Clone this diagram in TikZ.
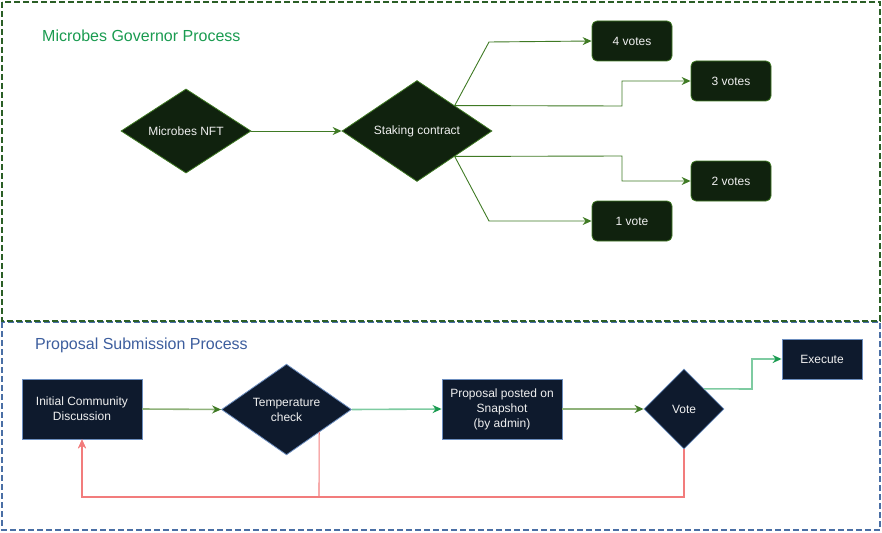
\documentclass[tikz,border=0pt]{standalone}
\usepackage{fontspec}
\setmainfont{Liberation Sans}
\usetikzlibrary{shapes.geometric,arrows.meta,calc}
\definecolor{gfill}{HTML}{10220E}
\definecolor{gborder}{HTML}{3F7A24}
\definecolor{gframe}{HTML}{2B5F26}
\definecolor{gtitle}{HTML}{1A9B50}
\definecolor{btitle}{HTML}{3D5E9E}
\definecolor{bframe}{HTML}{4A6FA5}
\definecolor{nfill}{HTML}{0E1A2D}
\definecolor{nborder}{HTML}{6C8EBF}
\definecolor{oline}{HTML}{8FB27A}
\definecolor{mline}{HTML}{7ECBA1}
\definecolor{rline}{HTML}{F27C7C}
\definecolor{rlight}{HTML}{FFB8B8}
\definecolor{ntext}{HTML}{F0F0F0}
\tikzset{
  frame/.style={line width=1.4pt, dash pattern=on 6pt off 3pt},
  title/.style={font=\fontsize{16}{19}\selectfont, anchor=west, inner sep=0pt},
  gdiam/.style={diamond, draw=gborder, fill=gfill, text=ntext, inner sep=0pt, line width=0.8pt, font=\fontsize{12}{14}\selectfont},
  gbox/.style={rectangle, rounded corners=5pt, draw=gborder, fill=gfill, text=ntext, minimum width=80pt, minimum height=40pt, line width=0.8pt, font=\fontsize{12}{14}\selectfont},
  ndiam/.style={diamond, draw=nborder, fill=nfill, text=ntext, inner sep=0pt, line width=0.8pt, align=center, font=\fontsize{12}{15}\selectfont},
  nbox/.style={rectangle, draw=nborder, fill=nfill, text=ntext, inner sep=0pt, line width=0.8pt, align=center, font=\fontsize{12}{15}\selectfont},
  garrow/.style={draw=gborder, line width=0.9pt, -{Stealth[length=9pt,width=8pt,inset=3pt]}},
  oarrow/.style={draw=oline, line width=1.6pt, -{Stealth[length=9pt,width=8pt,inset=3pt,color=gborder]}},
  marrow/.style={draw=mline, line width=1.6pt, -{Stealth[length=9pt,width=8pt,inset=3pt,color=gtitle]}},
  rarrow/.style={draw=rline, line width=1.1pt, -{Stealth[length=9pt,width=8pt,inset=3pt]}},
}
\begin{document}
\begin{tikzpicture}[x=1pt,y=-1pt]
\useasboundingbox (0,0) rectangle (882,532);
% frames
\draw[frame, bframe] (2,322) rectangle (880,530);
\draw[frame, gframe] (2,2) rectangle (880,321);
\node[title, text=gtitle] (t1) at (42,35.5) {Microbes Governor Process};
\node[title, text=btitle] (t2) at (35,345.5) {Proposal Submission Process};
% top nodes
\node[gdiam, minimum width=130pt, minimum height=81pt] (nft) at (186,131) {Microbes NFT};
\node[gdiam, minimum width=150pt, minimum height=101pt] (sc) at (417,131) {Staking contract};
\node[gbox] (v4) at (632,41) {4 votes};
\node[gbox] (v3) at (731,81) {3 votes};
\node[gbox] (v2) at (731,181) {2 votes};
\node[gbox] (v1) at (632,221) {1 vote};
\coordinate (scu) at ($(sc.north)!0.5!(sc.east)$);
\coordinate (scd) at ($(sc.south)!0.5!(sc.east)$);
\draw[garrow] (nft.east) -- (sc.west);
\draw[garrow] (scu) -- (489,42) -- (v4.west);
\draw[garrow] (scu) -- (622,106) -- (622,81) -- (v3.west);
\draw[garrow] (scd) -- (622,156) -- (622,181) -- (v2.west);
\draw[garrow] (scd) -- (489,221) -- (v1.west);
% bottom nodes
\node[nbox, minimum width=120pt, minimum height=60pt] (icd) at (82,409) {Initial Community\\Discussion};
\node[ndiam, minimum width=130pt, minimum height=80pt] (tc) at (286.5,409.5) {Temperature\\check};
\node[nbox, minimum width=120pt, minimum height=60pt] (pp) at (502,409) {Proposal posted on\\Snapshot\\(by admin)};
\node[ndiam, minimum width=80pt, minimum height=80pt] (vote) at (684,409) {Vote};
\node[nbox, minimum width=80pt, minimum height=40pt] (ex) at (822,359) {Execute};
\coordinate (tcd) at ($(tc.south)!0.5!(tc.east)$);
\coordinate (vu) at ($(vote.north)!0.5!(vote.east)$);
\coordinate (jl) at (82,497);
\draw[rlight, line width=2pt] (jl) -- (684,497);
\draw[oarrow] (icd.east) -- (tc.west);
\draw[marrow] (tc.east) -- (pp.west);
\draw[oarrow] (pp.east) -- (vote.west);
\draw[marrow] (vu) -- (752,389) -- (752,359) -- (ex.west);
\draw[rarrow] (tcd) -- (319,497) -- (jl) -- (icd.south);
\draw[rarrow] (vote.south) -- (684,497) -- (jl) -- (icd.south);
\end{tikzpicture}
\end{document}
